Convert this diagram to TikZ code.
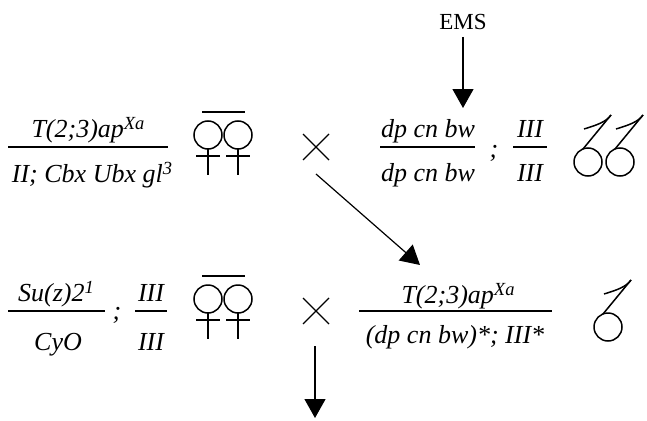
\documentclass[tikz,border=0pt]{standalone}
\usepackage{fontspec}
\setmainfont{Liberation Serif}
\usetikzlibrary{arrows.meta}
\newcommand\mysup[1]{\raisebox{7.5pt}{\fontsize{18.5}{18.5}\selectfont #1}}
\begin{document}
\begin{tikzpicture}[x=1pt,y=-1pt,
  gtxt/.style={font=\fontsize{26}{31}\selectfont\itshape, inner sep=0pt, anchor=base},
  fracline/.style={line width=1.3pt},
  sym/.style={line width=1.5pt},
  crossmark/.style={line width=1.2pt},
  arr/.style={line width=1.2pt, -{Triangle[width=21pt,length=19pt]}},
  pics/fempair/.style={code={
    \draw[sym] (0,0) circle[radius=14pt] (30,0) circle[radius=14pt];
    \draw[sym] (-6,-23) -- (37,-23);
    \draw[sym] (0,14) -- (0,40) (-12,21) -- (12,21);
    \draw[sym] (30,14) -- (30,40) (18,21) -- (42,21);
  }},
  pics/malesym/.style={code={
    \draw[sym] (0,0) circle[radius=14pt];
    \draw[sym] (-5,-13) -- (23,-47);
    \draw[sym] (-4,-33) .. controls (9,-37) and (18,-40) .. (23,-47);
  }},
  pics/timesmark/.style={code={
    \draw[crossmark] (-13,-13) -- (13,13) (-13,13) -- (13,-13);
  }}]
\useasboundingbox (0,0) rectangle (647,420);

% EMS and mutagenesis arrow
\node[font=\fontsize{23}{28}\selectfont, inner sep=0pt, anchor=base] (ems) at (463,30) {EMS};
\coordinate (ems0) at (463,37);
\coordinate (ems1) at (463,108);
\draw[arr] (ems0) -- (ems1);

% ---------- Row 1 ----------
\draw[fracline] (8,147) -- (168,147);
\node[gtxt] (r1ln) at (88,137) {T(2;3)ap\mysup{Xa}};
\node[gtxt] (r1ld) at (92,182) {II; Cbx Ubx gl\mysup{3}};
\pic at (208,135) {fempair};
\pic at (316,147) {timesmark};

\draw[fracline] (380,147) -- (475,147);
\node[gtxt] (r1rn) at (428,137) {dp cn bw};
\node[gtxt] (r1rd) at (428,181) {dp cn bw};
\node[gtxt] (r1semi) at (494,157) {;};
\draw[fracline] (513,147) -- (547,147);
\node[gtxt] (r1in) at (530,137) {III};
\node[gtxt] (r1id) at (530,181) {III};
\pic at (588,162) {malesym};
\pic at (620,162) {malesym};

% diagonal arrow
\coordinate (d0) at (316,174);
\coordinate (d1) at (420,265);
\draw[arr] (d0) -- (d1);

% ---------- Row 2 ----------
\draw[fracline] (8,311) -- (105,311);
\node[gtxt] (r2ln) at (56,301) {Su(z)2\mysup{1}};
\node[gtxt] (r2ld) at (58,350) {CyO};
\node[gtxt] (r2semi) at (117,319) {;};
\draw[fracline] (135,311) -- (167,311);
\node[gtxt] (r2in) at (151,301) {III};
\node[gtxt] (r2id) at (151,350) {III};
\pic at (208,299) {fempair};
\pic at (316,311) {timesmark};

\draw[fracline] (359,311) -- (552,311);
\node[gtxt] (r2rn) at (458,303) {T(2;3)ap\mysup{Xa}};
\node[gtxt] (r2rd) at (455,343) {(dp cn bw)*; III*};
\pic at (608,327) {malesym};

% bottom arrow
\coordinate (b0) at (315,346);
\coordinate (b1) at (315,418);
\draw[arr] (b0) -- (b1);
\end{tikzpicture}
\end{document}
